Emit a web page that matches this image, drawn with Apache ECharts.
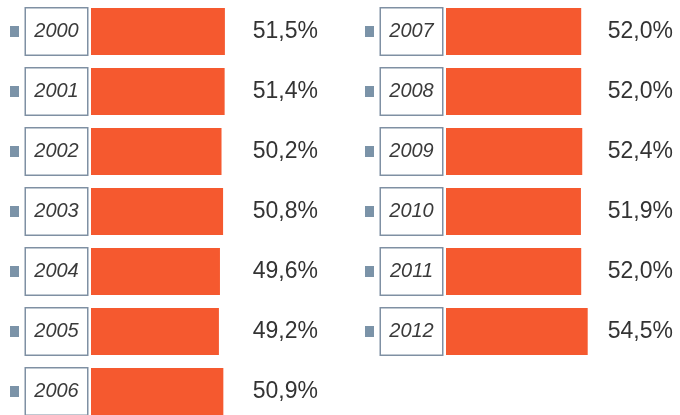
<!DOCTYPE html>
<html>
<head>
<meta charset="utf-8">
<script src="https://cdn.jsdelivr.net/npm/echarts@6/dist/echarts.min.js"></script>
<style>
  html, body { margin: 0; padding: 0; background: #fff; }
  #main { width: 680px; height: 415px; }
</style>
</head>
<body>
<div id="main"></div>
<script>
  // 左栏 / 右栏 的数据
  var yearsLeft = ['2000', '2001', '2002', '2003', '2004', '2005', '2006'];
  var valuesLeft = [51.5, 51.4, 50.2, 50.8, 49.6, 49.2, 50.9];
  var yearsRight = ['2007', '2008', '2009', '2010', '2011', '2012'];
  var valuesRight = [52.0, 52.0, 52.4, 51.9, 52.0, 54.5];

  var barColor = '#f5592f';
  var boxColor = '#7f90a3';
  var font = '"Liberation Sans", Arial, sans-serif';

  function fmt(v) {
    return v.toFixed(1).replace('.', ',') + '%';
  }

  var yearLabel = {
    margin: 4,
    fontFamily: font,
    formatter: function (v) {
      return '{m|}{g|}{b|' + v + '}';
    },
    rich: {
      m: { width: 9, height: 11, backgroundColor: '#7b93a8' },
      g: { width: 7 },
      b: {
        width: 61, height: 46, lineHeight: 46, align: 'center',
        fontSize: 20, fontStyle: 'italic', color: '#3a3a3a', fontFamily: font,
        backgroundColor: '#fff', borderColor: boxColor, borderWidth: 1.5
      }
    }
  };

  var valueLabel = {
    margin: 71,
    align: 'right',
    fontSize: 23,
    color: '#333',
    fontFamily: font,
    padding: [13, 0, 0, 0]
  };

  var chart = echarts.init(document.getElementById('main'));
  chart.setOption({
    animation: false,
    backgroundColor: '#fff',
    grid: [
      { left: 91, top: 1.5, width: 156, height: 420, outerBoundsMode: 'none' },
      { left: 446, top: 1.5, width: 156, height: 360, outerBoundsMode: 'none' }
    ],
    xAxis: [
      { gridIndex: 0, type: 'value', min: 0, max: 60, show: false },
      { gridIndex: 1, type: 'value', min: 0, max: 60, show: false }
    ],
    yAxis: [
      { gridIndex: 0, type: 'category', inverse: true, data: yearsLeft,
        axisLine: { show: false }, axisTick: { show: false }, axisLabel: yearLabel },
      { gridIndex: 0, type: 'category', inverse: true, position: 'right', data: valuesLeft.map(fmt),
        axisLine: { show: false }, axisTick: { show: false }, axisLabel: valueLabel },
      { gridIndex: 1, type: 'category', inverse: true, data: yearsRight,
        axisLine: { show: false }, axisTick: { show: false }, axisLabel: yearLabel },
      { gridIndex: 1, type: 'category', inverse: true, position: 'right', data: valuesRight.map(fmt),
        axisLine: { show: false }, axisTick: { show: false }, axisLabel: valueLabel }
    ],
    series: [
      { type: 'bar', xAxisIndex: 0, yAxisIndex: 0, data: valuesLeft,
        barWidth: 47, itemStyle: { color: barColor } },
      { type: 'bar', xAxisIndex: 1, yAxisIndex: 2, data: valuesRight,
        barWidth: 47, itemStyle: { color: barColor } }
    ]
  });
</script>
</body>
</html>
